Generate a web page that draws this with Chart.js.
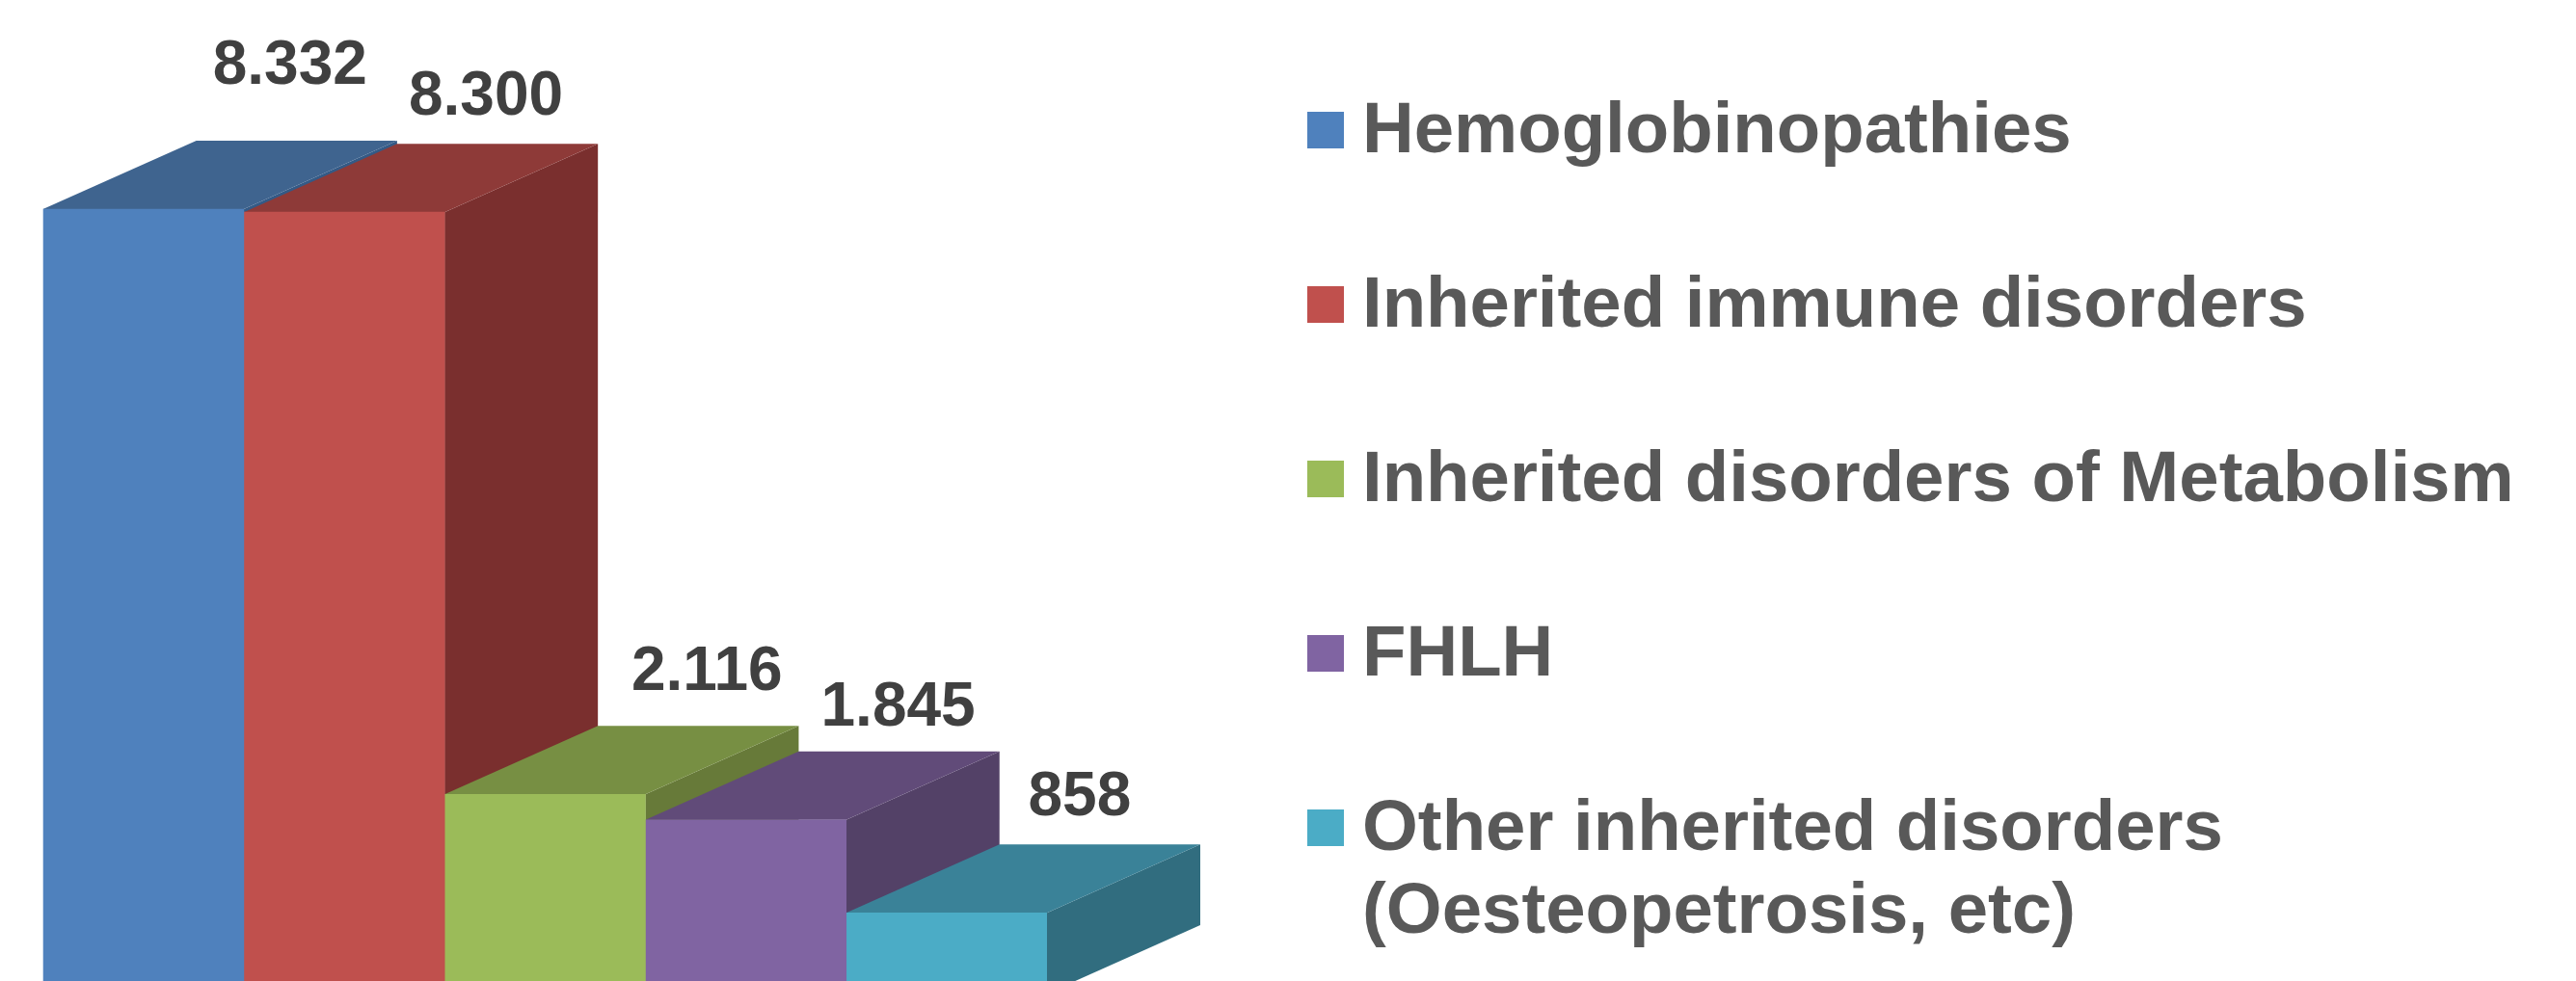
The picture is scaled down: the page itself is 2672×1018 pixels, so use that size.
<!DOCTYPE html>
<html lang="en">
<head>
    <meta charset="UTF-8">
    <title>Inherited disorders</title>
    <script src="https://cdn.jsdelivr.net/npm/chart.js"></script>
    <style>
        html, body { margin: 0; padding: 0; background: #fff; overflow: hidden; }
        #wrap { position: relative; width: 2672px; height: 1018px; }
        #chart { position: absolute; left: 0; top: 0; }
        #legend { position: absolute; left: 1356px; top: 90px; font: bold 74.4px "Liberation Sans", Arial, sans-serif; line-height: 86px; color: #595959; }
        .legend-item { display: flex; height: 181px; }
        .legend-box { width: 38px; height: 38px; margin: 26px 19px 0 0; flex: none; }
        .legend-text { white-space: pre; }
    </style>
</head>
<body>
    <div id="wrap">
        <canvas id="chart" width="2672" height="1018"></canvas>
        <div id="legend"></div>
    </div>

    <script>
        const categories = [''];
        const seriesNames = [
            'Hemoglobinopathies',
            'Inherited immune disorders',
            'Inherited disorders of Metabolism',
            'FHLH',
            'Other inherited disorders\n(Oesteopetrosis, etc)'
        ];
        const seriesValues = [8332, 8300, 2116, 1845, 858];

        const frontColors = ['#4f81bd', '#c0504d', '#9bbb59', '#8064a2', '#4bacc6'];
        const topColors = ['#3f648f', '#8e3a38', '#778f43', '#614b79', '#3a8298'];
        const sideColors = ['#345a86', '#7a2f2e', '#677a39', '#534167', '#316d7f'];

        // offset of each value label from the centre of the bar's back top edge
        const labelOffsets = [[-7, -81], [-12, -52], [9, -59], [-1, -49], [-21, -52]];

        // how far the bars recede into the picture, in pixels
        const depthX = 159;
        const depthY = 71;

        function poly(ctx, pts, color) {
            ctx.fillStyle = color;
            ctx.beginPath();
            pts.forEach((p, i) => i ? ctx.lineTo(p[0], p[1]) : ctx.moveTo(p[0], p[1]));
            ctx.closePath();
            ctx.fill();
        }

        // Chart.js has no 3D bars, so the top and side faces go in behind the normal bars
        const faces3d = {
            id: 'faces3d',
            beforeDatasetsDraw(chart) {
                const ctx = chart.ctx;
                const zero = chart.scales.y.getPixelForValue(0);
                ctx.save();
                seriesValues.forEach((v, i) => {
                    const bar = chart.getDatasetMeta(i).data[0];
                    const l = bar.x - bar.width / 2;
                    const r = bar.x + bar.width / 2;
                    const t = bar.y;
                    poly(ctx, [[r, t], [r + depthX, t - depthY], [r + depthX, zero - depthY], [r, zero]], sideColors[i]);
                    poly(ctx, [[l, t], [l + depthX, t - depthY], [r + depthX, t - depthY], [r, t]], topColors[i]);
                });
                ctx.restore();
            },
            afterDatasetsDraw(chart) {
                const ctx = chart.ctx;
                ctx.save();
                ctx.font = 'bold 64px "Liberation Sans", Arial, sans-serif';
                ctx.fillStyle = '#404040';
                ctx.textAlign = 'center';
                ctx.textBaseline = 'alphabetic';
                seriesValues.forEach((v, i) => {
                    const bar = chart.getDatasetMeta(i).data[0];
                    const text = v.toLocaleString('de-DE');
                    // 22 puts the middle of the digits on the target y
                    ctx.fillText(text, bar.x + depthX + labelOffsets[i][0], bar.y - depthY + labelOffsets[i][1] + 22);
                });
                ctx.restore();
            }
        };

        new Chart(document.getElementById('chart'), {
            type: 'bar',
            data: {
                labels: categories,
                datasets: seriesNames.map((name, i) => ({
                    label: name,
                    data: [seriesValues[i]],
                    backgroundColor: frontColors[i],
                    borderWidth: 0,
                    barPercentage: 1,
                    categoryPercentage: 1
                }))
            },
            options: {
                responsive: false,
                animation: false,
                layout: { padding: { left: 44.6, right: 1586, top: 0, bottom: 0 } },
                plugins: { legend: { display: false }, tooltip: { enabled: false } },
                scales: {
                    x: { display: false },
                    // the zero line sits just under the bottom of the picture
                    y: { display: false, min: 134, max: 10553 }
                }
            },
            plugins: [faces3d]
        });

        const legend = document.getElementById('legend');
        seriesNames.forEach((name, i) => {
            const item = document.createElement('div');
            item.className = 'legend-item';
            const box = document.createElement('div');
            box.className = 'legend-box';
            box.style.background = frontColors[i];
            const text = document.createElement('div');
            text.className = 'legend-text';
            text.textContent = name;
            item.appendChild(box);
            item.appendChild(text);
            legend.appendChild(item);
        });
    </script>
</body>
</html>
